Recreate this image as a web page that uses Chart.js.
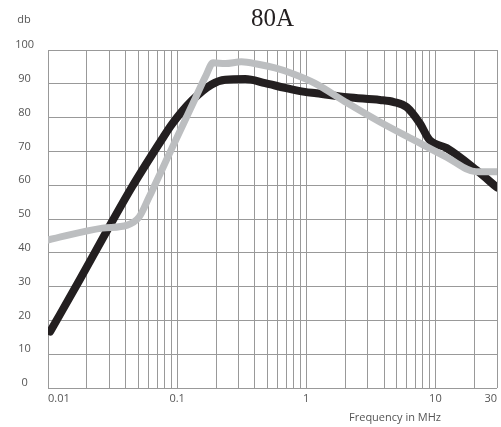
<!DOCTYPE html>
<html>
<head>
<meta charset="utf-8">
<script src="https://cdn.jsdelivr.net/npm/chart.js@4"></script>
<style>
  html, body { margin: 0; padding: 0; background: #fff; }
  #wrap { width: 501px; height: 427px; }
</style>
</head>
<body>
<div id="wrap"><canvas id="chart" width="501" height="427"></canvas></div>
<script>
// values
const chartTitle = "80A";
const yUnit = "db";
const xTitle = "Frequency in MHz";

const blackFreq = [0.0104, 0.0176, 0.0284, 0.0449, 0.0763, 0.091, 0.13, 0.185, 0.236, 0.337, 0.48, 0.683, 0.972, 1.2, 2.08, 3.72, 4.77, 6.0, 7.55, 9.0, 12.2, 20.7, 30];
const blackDb = [16.7, 32, 46.3, 59.6, 73.6, 78, 85, 89.8, 91.2, 91.4, 90.2, 88.8, 87.6, 87.2, 86, 85.2, 84.6, 83.1, 78.4, 73.4, 71, 64.5, 59.3];

const grayFreq = [0.01, 0.0264, 0.0411, 0.0508, 0.0607, 0.0763, 0.091, 0.1126, 0.139, 0.166, 0.19, 0.236, 0.314, 0.424, 0.572, 0.759, 1.16, 2.08, 3.72, 6.79, 12.2, 20.7, 30];
const grayDb = [43.8, 47.3, 48.2, 50.6, 56.5, 64.6, 70.9, 78.4, 85.9, 92.2, 96.2, 96, 96.5, 95.8, 94.7, 93.2, 90.2, 84.3, 78.7, 73.4, 68.3, 64, 64];

const xLabels = [0.01, 0.1, 1, 10, 30];
const yTicks = [0, 10, 20, 30, 40, 50, 60, 70, 80, 90, 100];

// vertical grid: 1..9 per decade, then 20 and 30
const xGrid = [];
[0.01, 0.1, 1].forEach((d) => {
  for (let m = 1; m <= 9; m++) xGrid.push(Number((m * d).toPrecision(3)));
});
xGrid.push(10, 20, 30);

const toPoints = (xs, ys) => xs.map((x, i) => ({ x: x, y: ys[i] }));

const tickFont = { family: "'Open Sans', sans-serif", size: 11 };
const tickColor = "#555";

const textPlugin = {
  id: "extraText",
  afterDraw(chart) {
    const ctx = chart.ctx;
    const area = chart.chartArea;
    ctx.save();
    ctx.textAlign = "center";
    ctx.textBaseline = "middle";
    ctx.fillStyle = "#231f20";
    ctx.font = "25px 'Liberation Serif', serif";
    ctx.fillText(chartTitle, (area.left + area.right) / 2, 19);
    ctx.fillStyle = tickColor;
    ctx.font = "11px 'Open Sans', sans-serif";
    ctx.fillText(yUnit, 24, 20);
    ctx.fillText(xTitle, 395, 418);
    ctx.restore();
  },
};

new Chart(document.getElementById("chart"), {
  type: "line",
  data: {
    datasets: [
      {
        label: "gray",
        data: toPoints(grayFreq, grayDb),
        borderColor: "#bcbec0",
        borderWidth: 7,
        borderCapStyle: "round",
        borderJoinStyle: "round",
        pointRadius: 0,
        cubicInterpolationMode: "monotone",
      },
      {
        label: "black",
        data: toPoints(blackFreq, blackDb),
        borderColor: "#231f20",
        borderWidth: 8,
        borderCapStyle: "round",
        borderJoinStyle: "round",
        pointRadius: 0,
        cubicInterpolationMode: "monotone",
      },
    ],
  },
  options: {
    responsive: false,
    animation: false,
    layout: { padding: { top: 50, right: 0, left: 0, bottom: 0 } },
    plugins: {
      legend: { display: false },
      tooltip: { enabled: false },
      title: { display: false },
    },
    scales: {
      x: {
        type: "logarithmic",
        min: 0.01,
        max: 30,
        afterBuildTicks: (scale) => {
          scale.ticks = xGrid.map((v) => ({ value: v }));
        },
        afterFit: (scale) => {
          scale.height = 39;
        },
        grid: { color: "#999", lineWidth: 1, drawTicks: false },
        border: { display: false },
        ticks: {
          autoSkip: false,
          maxRotation: 0,
          align: "inner",
          padding: 4,
          color: tickColor,
          font: tickFont,
          callback: (v) => (xLabels.includes(v) ? String(v) : ""),
        },
      },
      y: {
        min: 0,
        max: 100,
        afterBuildTicks: (scale) => {
          scale.ticks = yTicks.map((v) => ({ value: v }));
        },
        afterFit: (scale) => {
          scale.width = 48;
        },
        grid: { color: "#999", lineWidth: 1, drawTicks: false },
        border: { color: "#999" },
        ticks: {
          crossAlign: "center",
          padding: 14,
          labelOffset: -5,
          color: tickColor,
          font: tickFont,
        },
      },
    },
  },
  plugins: [textPlugin],
});
</script>
</body>
</html>
